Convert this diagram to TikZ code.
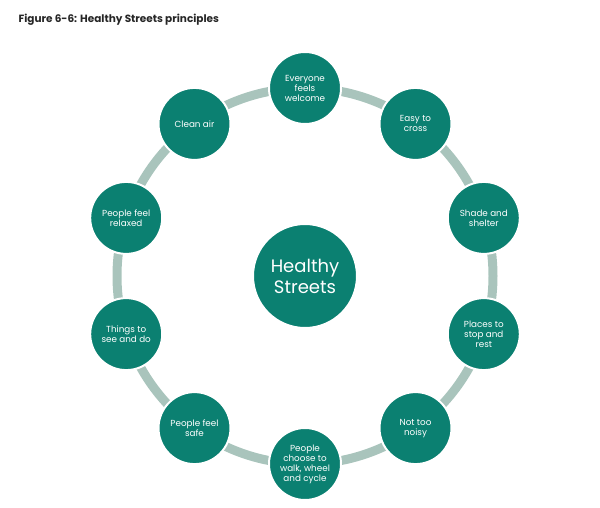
\documentclass[tikz,border=0pt]{standalone}
\usepackage{fontspec}
\setmainfont{Poppins}
\usetikzlibrary{calc}
\definecolor{teal}{HTML}{0B8071}
\definecolor{ringc}{HTML}{A9C4BC}
\begin{document}
\begin{tikzpicture}[x=1pt,y=-1pt,
  principle/.style={circle, fill=teal, draw=white, line width=2pt, minimum size=72pt, inner sep=0pt,
    text=white, align=center, font=\fontsize{8.8}{10}\selectfont},
  hub/.style={circle, fill=teal, draw=white, line width=2pt, minimum size=104pt, inner sep=0pt,
    text=white, align=center, font=\fontsize{18}{21}\selectfont},
  ringline/.style={draw=ringc, line width=9pt}]
\useasboundingbox (0,0) rectangle (600,508);
\node[anchor=base west, font=\bfseries\fontsize{10.5}{12}\selectfont, text=black!85] (title) at (15,23) {Figure 6-6: Healthy Streets principles};
\coordinate (c) at (305,276);
\draw[ringline] (c) circle[radius=188pt];
\node[hub] (hub) at (c) {Healthy\\Streets};
\foreach \i/\txt in {0/{Everyone\\feels\\welcome},1/{Easy to\\cross},2/{Shade and\\shelter},3/{Places to\\stop and\\rest},4/{Not too\\noisy},5/{People\\choose to\\walk, wheel\\and cycle},6/{People feel\\safe},7/{Things to\\see and do},8/{People feel\\relaxed},9/{Clean air}}{
  \node[principle] (p\i) at ($(c)+({188*sin(36*\i)},{-188*cos(36*\i)})$) {\txt};
}
\end{tikzpicture}
\end{document}
